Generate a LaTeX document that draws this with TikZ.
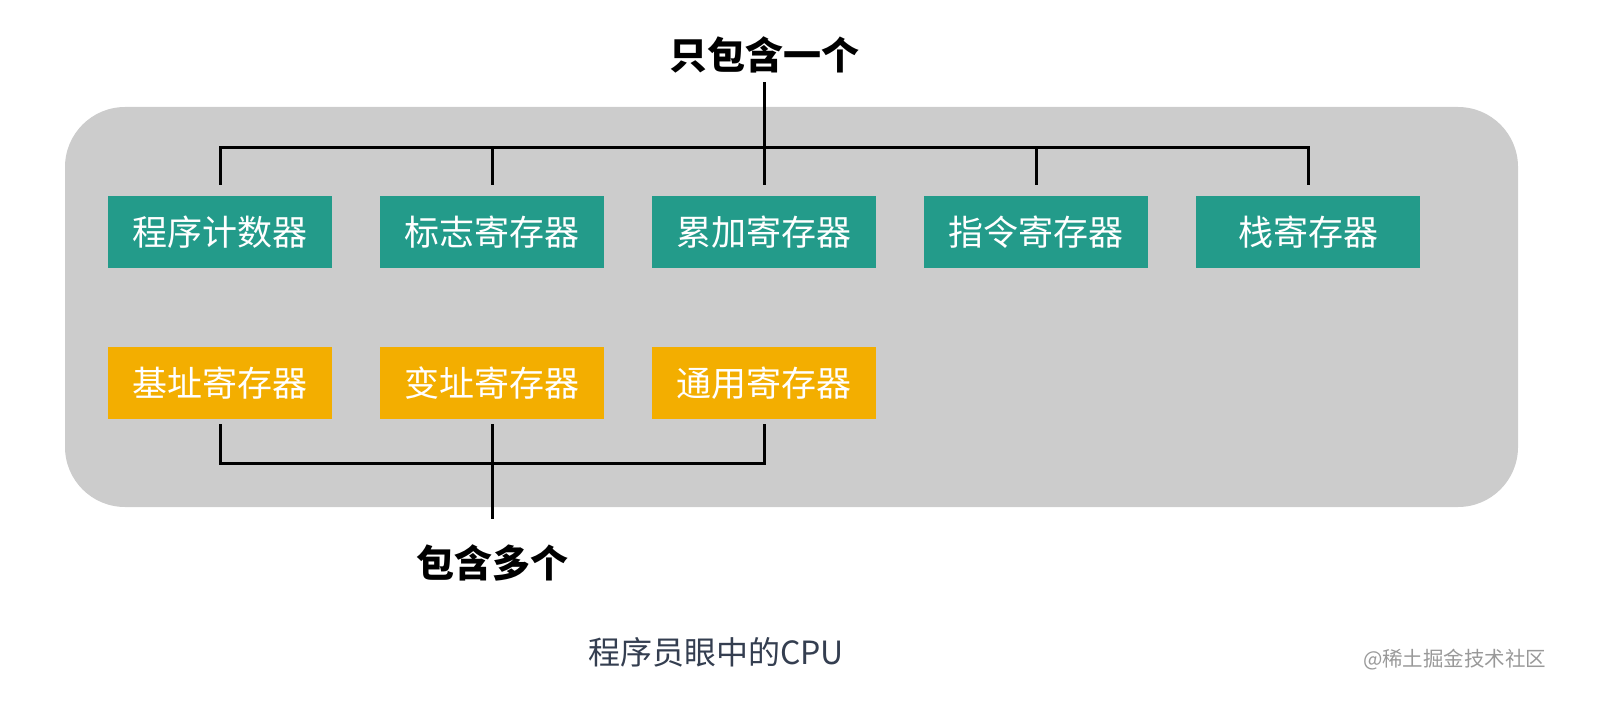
\documentclass[tikz,border=0pt]{standalone}
\usepackage{fontspec}
\setmainfont{Noto Sans CJK SC}
\usetikzlibrary{positioning}

\definecolor{regteal}{RGB}{35,155,138}
\definecolor{regamber}{RGB}{243,174,0}
\definecolor{panelgray}{RGB}{204,204,204}
\definecolor{captionink}{RGB}{52,62,80}

\begin{document}
\begin{tikzpicture}[
    x=1pt, y=-1pt,
    reg/.style={minimum width=224pt, minimum height=72pt, inner sep=0pt, text=white,
      font=\fontsize{35}{35}\selectfont},
    single/.style={reg, fill=regteal},
    multi/.style={reg, fill=regamber},
    bus/.style={line width=3pt, black},
    tag/.style={font=\fontsize{38}{38}\selectfont\bfseries, inner sep=0pt}
  ]
  \useasboundingbox (0,0) rectangle (1606,706);

  % --- Background Panel ---
  \fill[panelgray, rounded corners=60pt] (65,107) rectangle (1518,507);

  % --- Registers ---
  \foreach \name/\txt [count=\i from 0] in {pc/程序计数器, flag/标志寄存器, acc/累加寄存器, ir/指令寄存器, sp/栈寄存器} {
    \node[single] (\name) at (220+272*\i, 232) {\txt};
  }
  \foreach \name/\txt [count=\i from 0] in {base/基址寄存器, idx/变址寄存器, gen/通用寄存器} {
    \node[multi] (\name) at (220+272*\i, 383) {\txt};
  }

  % --- Only one ---
  \node[tag] (one) at (764,55) {只包含一个};
  \draw[bus] ([yshift=11pt]pc.north) |- ([yshift=48pt]sp.north) -- ([yshift=11pt]sp.north);
  \foreach \name in {flag, ir} {
    \draw[bus] ([yshift=11pt]\name.north) -- ([yshift=48pt]\name.north);
  }
  \draw[bus] ([yshift=-9pt]one.south) -- ([yshift=11pt]acc.north);

  % --- Many ---
  \node[tag] (many) at (492,563) {包含多个};
  \draw[bus] ([yshift=-5pt]base.south) |- ([yshift=-44pt]gen.south) -- ([yshift=-5pt]gen.south);
  \draw[bus] ([yshift=-5pt]idx.south) -- ([yshift=26pt]many.north);

  % --- Caption ---
  \node[font=\fontsize{32}{32}\selectfont, text=captionink] (caption) at (716,652) {程序员眼中的CPU};
  \node[font=\fontsize{20.5}{20.5}\selectfont, text=gray!80, anchor=east] (mark) at (1550,660) {@稀土掘金技术社区};

\end{tikzpicture}
\end{document}
